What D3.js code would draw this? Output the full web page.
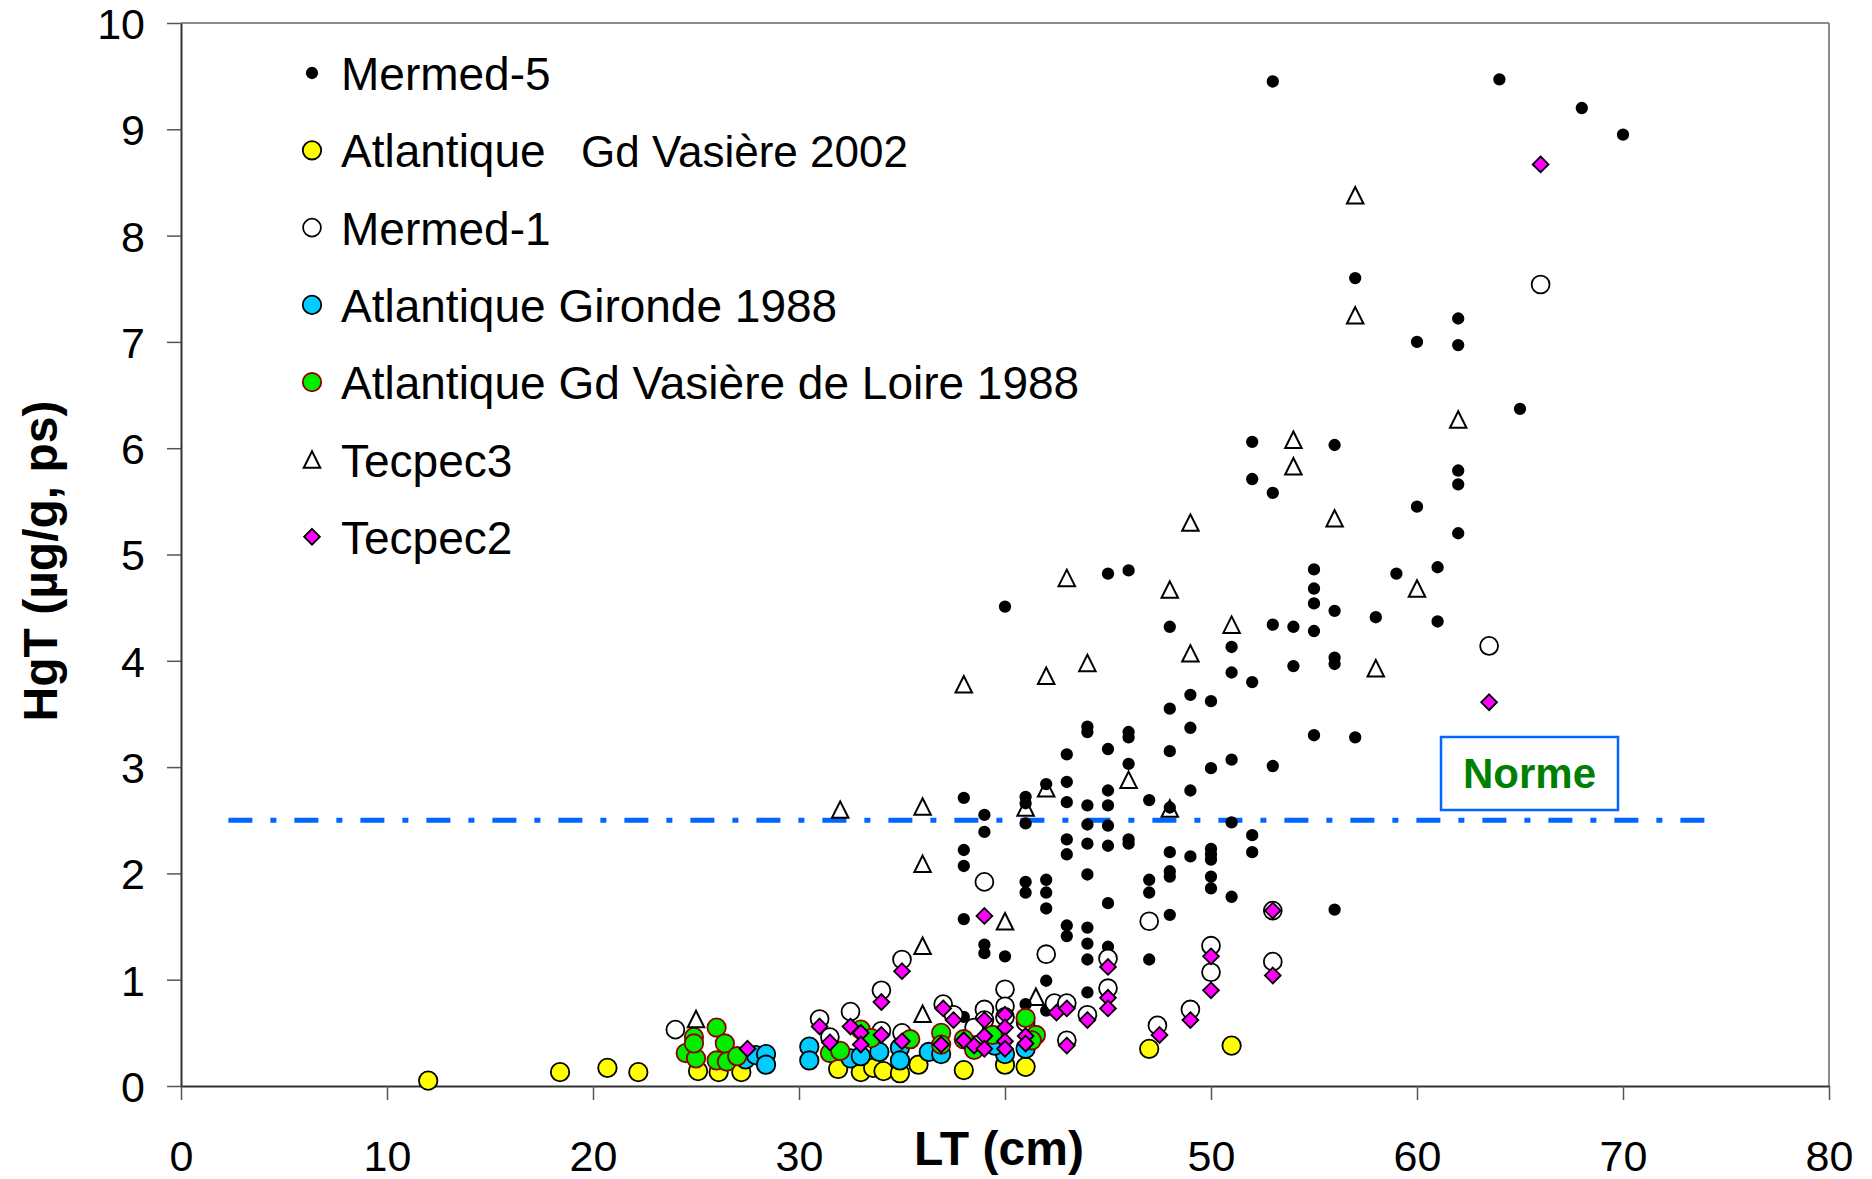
<!DOCTYPE html>
<html>
<head>
<meta charset="utf-8">
<script src="https://d3js.org/d3.v7.min.js"></script>
<style>
  body { margin: 0; background: #fff; }
  text { font-family: "Liberation Sans", Arial, sans-serif; }
</style>
</head>
<body>
<div id="chart"></div>
<script>
// data: [LT (cm), HgT (µg/g, ps)]
var mermed5 = [
  [53,9.45],[64,9.47],[68,9.2],[70,8.95],
  [57,7.6],[62,7.22],[62,6.97],[60,7.0],[65,6.37],
  [52,6.06],[56,6.03],[52,5.71],[53,5.58],[62,5.79],[62,5.66],[60,5.45],[62,5.2],
  [55,4.86],[55,4.68],[55,4.54],[56,4.47],[59,4.82],[61,4.88],[58,4.41],[61,4.37],[54,4.32],[55,4.28],[53,4.34],
  [56,4.03],[56,3.97],[54,3.95],[55,3.3],[57,3.28],[53,3.01],[56,1.66],
  [45,4.82],[46,4.85],[40,4.51],[48,4.32],[51,4.13],[51,3.89],[52,3.8],[49,3.68],[50,3.62],[48,3.55],
  [44,3.38],[44,3.33],[46,3.33],[46,3.28],[49,3.37],[43,3.12],[45,3.17],[48,3.15],[46,3.03],[50,2.99],[51,3.07],
  [42,2.84],[43,2.86],[45,2.78],[49,2.78],[41,2.72],[38,2.71],
  [41,2.66],[43,2.67],[44,2.64],[45,2.64],[47,2.69],[48,2.62],
  [39,2.55],[39,2.39],[41,2.47],[44,2.46],[45,2.45],[51,2.48],
  [43,2.32],[44,2.28],[45,2.26],[46,2.32],[46,2.28],[43,2.18],[48,2.2],[49,2.16],[50,2.23],[50,2.18],[50,2.13],[52,2.36],[52,2.2],
  [44,1.99],[47,1.94],[47,1.82],[48,2.02],[48,1.97],[50,1.97],[50,1.86],[51,1.78],
  [41,1.92],[41,1.82],[42,1.94],[42,1.82],[42,1.67],[45,1.72],[48,1.61],
  [38,2.22],[38,2.07],[38,1.57],
  [43,1.51],[43,1.41],[44,1.49],[44,1.34],[44,1.19],[39,1.33],[39,1.25],[40,1.22],[45,1.31],[47,1.19],
  [42,0.99],[44,0.88],[42,0.71],[41,0.77],[38,0.65]
];
var atlVasiere2002 = [
  [12,0.05],[18.4,0.13],[20.7,0.17],[22.2,0.13],[25.1,0.14],[26.1,0.13],[27.2,0.13],
  [31.9,0.16],[33,0.13],[33.6,0.17],[34.1,0.14],[34.9,0.12],[35.8,0.2],[38,0.15],
  [40,0.2],[41,0.18],[47,0.35],[51,0.38]
];
var mermed1 = [
  [24,0.53],[66,7.54],[63.5,4.14],[39,1.92],[47,1.55],[53,1.65],[42,1.24],[45,1.2],
  [50,1.32],[50,1.07],[53,1.17],[40,0.91],[45,0.92],[42.4,0.78],[43,0.78],[44,0.67],
  [43,0.43],[49,0.72],[47.4,0.57],[35,1.19],[34,0.9],[32.5,0.7],[31,0.63],[37,0.77],
  [37.5,0.67],[31.5,0.46],[34,0.52],[35,0.5],[39,0.72],[40,0.75],[40,0.65],[39,0.62],
  [38.5,0.55],[41,0.6]
];
var atlGironde1988 = [
  [27.4,0.25],[27.9,0.29],[28.4,0.3],[28.4,0.2],[30.5,0.37],[30.5,0.24],[32.5,0.26],
  [33,0.28],[33.9,0.32],[34.9,0.36],[34.9,0.24],[36.3,0.32],[36.9,0.3],[40,0.3],
  [41,0.35],[39.5,0.38]
];
var atlLoire1988 = [
  [24.5,0.31],[25,0.26],[24.9,0.46],[24.9,0.4],[26,0.55],[26.4,0.4],[26,0.24],[26.5,0.23],
  [27,0.28],[31.5,0.31],[32,0.33],[33,0.53],[33.5,0.45],[35.4,0.44],[36.9,0.5],[36.9,0.39],
  [38,0.44],[38.5,0.34],[39.4,0.48],[41,0.64],[41.5,0.48],[41.3,0.43]
];
var tecpec3 = [
  [25,0.63],[32,2.6],[36,2.63],[36,2.09],[36,1.32],[36,0.68],[38,3.78],[40,1.55],
  [41,2.62],[41.5,0.84],[42,3.86],[42,2.8],[43,4.78],[44,3.98],[46,2.88],[48,4.67],
  [48,2.61],[49,5.3],[49,4.07],[51,4.34],[54,6.08],[54,5.83],[56,5.34],[57,8.38],
  [57,7.25],[58,3.93],[60,4.68],[62,6.27]
];
var tecpec2 = [
  [66,8.67],[63.5,3.61],[53,1.65],[39,1.6],[45,1.12],[50,1.22],[50,0.9],[53,1.04],
  [45,0.83],[45,0.73],[42.5,0.69],[43,0.73],[44,0.62],[43,0.38],[49,0.62],[47.5,0.48],
  [35,1.08],[34,0.79],[32.5,0.56],[31,0.56],[37,0.73],[37.5,0.62],[31.5,0.41],[33,0.5],
  [33,0.39],[34,0.48],[35,0.42],[36.9,0.39],[38,0.43],[38.5,0.38],[27.5,0.35],[39,0.47],
  [39,0.62],[40,0.67],[40,0.55],[40,0.42],[40,0.35],[41,0.47],[41,0.4],[39,0.35]
];

var seriesNames = ["Mermed-5", "Atlantique  Gd Vasière 2002", "Mermed-1",
  "Atlantique Gironde 1988", "Atlantique Gd Vasière de Loire 1988", "Tecpec3", "Tecpec2"];
var xTicks = [0, 10, 20, 30, 40, 50, 60, 70, 80];
// the 40 label is hidden behind the axis title in the original
var xTickLabels = ["0", "10", "20", "30", "", "50", "60", "70", "80"];
var yTicks = [0, 1, 2, 3, 4, 5, 6, 7, 8, 9, 10];
var normeValue = 2.5;
var normeExtent = [2.3, 74];
var normeLabel = "Norme";

var svgWidth = 1872;
var svgHeight = 1179;

var margin = {
  top: 23,
  right: 43,
  bottom: 93,
  left: 181
};

var width = svgWidth - margin.left - margin.right;
var height = svgHeight - margin.top - margin.bottom;

var svg = d3.select("#chart")
    .append("svg")
    .attr("width", svgWidth)
    .attr("height", svgHeight);

var chartGroup = svg.append("g")
    .attr("transform", `translate(${margin.left}, ${margin.top})`);

var xScale = d3.scaleLinear().domain([0, 80]).range([0, width]);
var yScale = d3.scaleLinear().domain([0, 10]).range([height, 0]);

// marker shapes
var triangleUp = {
  draw: function(ctx, size) {
    var s = Math.sqrt(size);
    ctx.moveTo(0, -s / 2);
    ctx.lineTo(s / 2, s / 2);
    ctx.lineTo(-s / 2, s / 2);
    ctx.closePath();
  }
};
var diamond = {
  draw: function(ctx, size) {
    var r = Math.sqrt(size) / 2;
    ctx.moveTo(0, -r);
    ctx.lineTo(r, 0);
    ctx.lineTo(0, r);
    ctx.lineTo(-r, 0);
    ctx.closePath();
  }
};

var seriesData = [mermed5, atlVasiere2002, mermed1, atlGironde1988, atlLoire1988, tecpec3, tecpec2];
var seriesStyle = [
  {type: d3.symbolCircle, size: Math.PI * 38, fill: "#000", stroke: "none", sw: 0},
  {type: d3.symbolCircle, size: Math.PI * 85, fill: "#ffff00", stroke: "#000", sw: 1.8},
  {type: d3.symbolCircle, size: Math.PI * 80, fill: "#fff", stroke: "#000", sw: 1.8},
  {type: d3.symbolCircle, size: Math.PI * 85, fill: "#00ccff", stroke: "#000", sw: 1.8},
  {type: d3.symbolCircle, size: Math.PI * 85, fill: "#00ee00", stroke: "#8b0000", sw: 1.8},
  {type: triangleUp, size: 272, fill: "none", stroke: "#000", sw: 2},
  {type: diamond, size: 250, fill: "#ff00ff", stroke: "#000", sw: 1.8}
];

// frame
chartGroup.append("line")
    .attr("x1", 0).attr("x2", width).attr("y1", 0).attr("y2", 0)
    .attr("stroke", "#8c8c8c").attr("stroke-width", 2);
chartGroup.append("line")
    .attr("x1", width).attr("x2", width).attr("y1", 0).attr("y2", height)
    .attr("stroke", "#8c8c8c").attr("stroke-width", 2);

var bottomAxis = d3.axisBottom(xScale)
    .tickValues(xTicks)
    .tickFormat((d, i) => xTickLabels[i])
    .tickSize(14).tickPadding(40).tickSizeOuter(0);
var leftAxis = d3.axisLeft(yScale).tickValues(yTicks).tickSize(14).tickPadding(22).tickSizeOuter(0);

var xAxisG = chartGroup.append("g")
    .attr("transform", `translate(0,${height})`)
    .call(bottomAxis);
var yAxisG = chartGroup.append("g")
    .call(leftAxis);

[xAxisG, yAxisG].forEach(function(g) {
  g.select(".domain").attr("stroke", "#333").attr("stroke-width", 2);
  g.selectAll(".tick line").attr("stroke", "#555").attr("stroke-width", 1.5);
  g.selectAll(".tick text")
      .attr("fill", "#000")
      .style("font-size", "43px")
      .style("font-family", "'Liberation Sans', Arial, sans-serif");
});
yAxisG.selectAll(".tick text").attr("dy", "0.36em");

// norme line
chartGroup.append("line")
    .attr("x1", xScale(normeExtent[0]))
    .attr("x2", xScale(normeExtent[1]))
    .attr("y1", yScale(normeValue))
    .attr("y2", yScale(normeValue))
    .attr("stroke", "#0066ff")
    .attr("stroke-width", 5)
    .attr("stroke-dasharray", "24,18,6,18");

// points
seriesData.forEach(function(data, i) {
  var st = seriesStyle[i];
  var sym = d3.symbol().type(st.type).size(st.size);
  chartGroup.append("g")
      .selectAll("path")
      .data(data)
      .enter()
      .append("path")
      .attr("transform", d => `translate(${xScale(d[0])},${yScale(d[1])})`)
      .attr("d", sym)
      .attr("fill", st.fill)
      .attr("stroke", st.stroke)
      .attr("stroke-width", st.sw);
});

// norme label box
var boxG = svg.append("g");
boxG.append("rect")
    .attr("x", 1441).attr("y", 737)
    .attr("width", 177).attr("height", 73)
    .attr("fill", "#fff")
    .attr("stroke", "#0066ff")
    .attr("stroke-width", 2.5);
boxG.append("text")
    .attr("x", 1529.5).attr("y", 788)
    .attr("text-anchor", "middle")
    .attr("font-weight", "bold")
    .attr("font-size", "42px")
    .attr("fill", "#008000")
    .text(normeLabel);

// legend
var legend = svg.append("g").attr("transform", "translate(312,73)");
seriesNames.forEach(function(name, i) {
  var st = seriesStyle[i];
  var row = legend.append("g").attr("transform", `translate(0,${i * 77.3})`);
  row.append("path")
      .attr("d", d3.symbol().type(st.type).size(st.size)())
      .attr("fill", st.fill)
      .attr("stroke", st.stroke)
      .attr("stroke-width", st.sw);
  var t = row.append("text")
      .attr("x", 29)
      .attr("y", 17)
      .attr("font-size", "46px")
      .attr("fill", "#000");
  if (i === 1) {
    var parts = name.split("  ");
    t.text(parts[0]);
    row.append("text")
        .attr("x", 269)
        .attr("y", 17)
        .attr("font-size", "44px")
        .attr("fill", "#000")
        .text(parts[1]);
  } else {
    t.text(name);
  }
});

// axis titles
svg.append("text")
    .attr("transform", "translate(57,561) rotate(-90)")
    .attr("text-anchor", "middle")
    .attr("font-weight", "bold")
    .attr("font-size", "48px")
    .text("HgT (µg/g, ps)");

svg.append("text")
    .attr("x", 999)
    .attr("y", 1165)
    .attr("text-anchor", "middle")
    .attr("font-weight", "bold")
    .attr("font-size", "48px")
    .text("LT (cm)");
</script>
</body>
</html>
